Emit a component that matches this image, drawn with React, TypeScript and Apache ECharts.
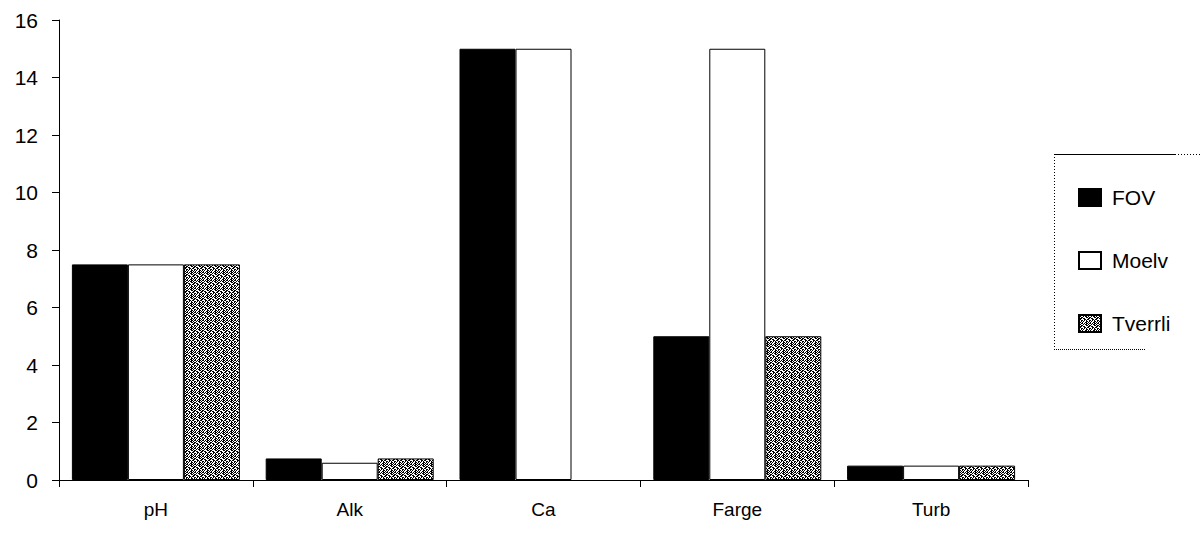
import React, { useEffect, useRef } from "react";
import * as echarts from "echarts";

const categories = ["pH", "Alk", "Ca", "Farge", "Turb"];
const seriesNames = ["FOV", "Moelv", "Tverrli"];
const fovValues = [7.5, 0.75, 15, 5, 0.5];
const moelvValues = [7.5, 0.6, 15, 15, 0.5];
const tverrliValues: (number | null)[] = [7.5, 0.75, null, 5, 0.5];
const yTicks = { min: 0, max: 16, interval: 2 };

const rows = [
  "10110101",
  "01001011",
  "10110001",
  "01101100",
  "11000110",
  "00110101",
  "10101001",
  "01010011",
];
function stippleTile(): string {
  let rects = "";
  rows.forEach((r, y) => {
    r.split("").forEach((c, x) => {
      if (c === "1") rects += `<rect x='${x}' y='${y}' width='1' height='1' fill='black'/>`;
    });
  });
  const svg = `<svg xmlns='http://www.w3.org/2000/svg' width='8' height='8' shape-rendering='crispEdges'><rect width='8' height='8' fill='white'/>${rects}</svg>`;
  return "data:image/svg+xml;charset=utf-8," + encodeURIComponent(svg);
}

export default function App() {
  const ref = useRef<HTMLDivElement>(null);
  useEffect(() => {
    if (!ref.current) return;
    const chart = echarts.init(ref.current, null, { renderer: "svg" });
    const stipple = { image: stippleTile(), repeat: "repeat" } as any;
    const font = "'Liberation Sans', Arial, sans-serif";
    const barBase = { type: "bar", barWidth: 56, barGap: "0%" };
    chart.setOption({
      animation: false,
      backgroundColor: "#ffffff",
      textStyle: { fontFamily: font },
      grid: { left: 59, top: 20, right: 176, bottom: 56, containLabel: false },
      xAxis: {
        type: "category",
        data: categories,
        axisLine: { show: true, lineStyle: { color: "#000", width: 1 } },
        axisTick: { show: true, alignWithLabel: false, length: 7, lineStyle: { color: "#000" } },
        axisLabel: { color: "#000", fontSize: 19, fontFamily: font, margin: 20 },
        splitLine: { show: false },
      },
      yAxis: {
        type: "value",
        min: yTicks.min,
        max: yTicks.max,
        interval: yTicks.interval,
        axisLine: { show: true, lineStyle: { color: "#000", width: 1 } },
        axisTick: { show: true, length: 7, lineStyle: { color: "#000" } },
        axisLabel: { color: "#000", fontSize: 21, fontFamily: font, margin: 21 },
        splitLine: { show: false },
      },
      legend: {
        orient: "vertical",
        left: 1073,
        top: 182,
        itemWidth: 22,
        itemHeight: 17,
        itemGap: 42,
        icon: "rect",
        textStyle: { color: "#000", fontSize: 21, fontFamily: font, padding: [0, 0, 0, 6] },
        data: seriesNames,
      },
      graphic: [
        { type: "line", shape: { x1: 1054, y1: 154.5, x2: 1175, y2: 154.5 }, style: { stroke: "#000", lineWidth: 1 } },
        { type: "line", shape: { x1: 1175, y1: 154.5, x2: 1200, y2: 154.5 }, style: { stroke: "#000", lineWidth: 1, lineDash: [1, 2] } },
        { type: "line", shape: { x1: 1054.5, y1: 154, x2: 1054.5, y2: 350 }, style: { stroke: "#000", lineWidth: 1, lineDash: [1, 2] } },
        { type: "line", shape: { x1: 1054, y1: 349.5, x2: 1146, y2: 349.5 }, style: { stroke: "#000", lineWidth: 1, lineDash: [1, 1] } },
      ],
      series: [
        { ...barBase, name: seriesNames[0], data: fovValues, itemStyle: { color: "#000", borderColor: "#000", borderWidth: 1 } },
        { ...barBase, name: seriesNames[1], data: moelvValues, itemStyle: { color: "#fff", borderColor: "#000", borderWidth: 1 } },
        { ...barBase, name: seriesNames[2], data: tverrliValues, itemStyle: { color: stipple, borderColor: "#000", borderWidth: 1 } },
      ],
    });
    return () => chart.dispose();
  }, []);
  return <div ref={ref} style={{ position: "fixed", left: 0, top: 0, width: 1204, height: 536, background: "#fff" }} />;
}
